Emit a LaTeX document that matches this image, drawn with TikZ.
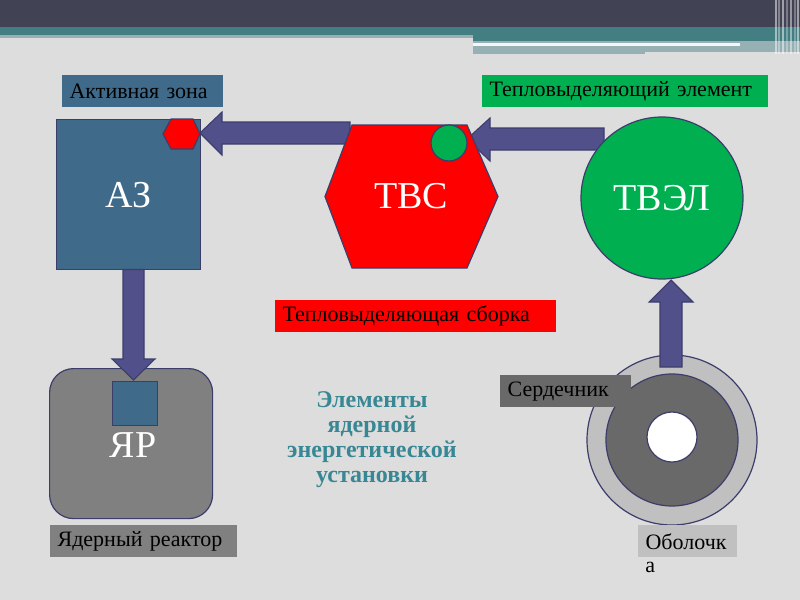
\documentclass[tikz,border=0pt]{standalone}
\usepackage{fontspec}
\setmainfont{Liberation Serif}
\definecolor{bg}{RGB}{221,221,221}
\definecolor{topdark}{RGB}{65,66,84}
\definecolor{teal}{RGB}{67,126,131}
\definecolor{tealgray}{RGB}{150,176,179}
\definecolor{azblue}{RGB}{63,106,138}
\definecolor{outl}{RGB}{59,62,106}
\definecolor{arrf}{RGB}{82,80,138}
\definecolor{grn}{RGB}{0,176,80}
\definecolor{midgray}{RGB}{128,128,128}
\definecolor{dgray}{RGB}{105,105,105}
\definecolor{lgray}{RGB}{192,192,192}
\definecolor{titletxt}{RGB}{55,135,148}
\newcommand{\lblfont}{\fontsize{16.5}{19}\selectfont}
\newcommand{\bigfont}{\fontsize{28.5}{31}\selectfont}
\begin{document}
\begin{tikzpicture}[x=0.75pt,y=-0.75pt]
\tikzset{
  lbl/.style={anchor=north west, minimum height=24pt, inner xsep=5.5pt, inner ysep=0pt, align=left, font=\lblfont, text=black, text width=#1},
  big/.style={text=white, font=\bigfont},
  edge/.style={draw=outl, line width=0.9pt},
  barrow/.style={fill=arrf, draw=outl, line width=0.8pt},
}
\useasboundingbox (0,0) rectangle (800,600);
\fill[bg] (0,0) rectangle (800,600);
% top bar
\fill[topdark] (0,0) rectangle (800,27);
\fill[teal] (0,27) rectangle (800,35);
\fill[teal] (473,27) rectangle (800,41);
\fill[tealgray] (0,35) rectangle (473,38);
\fill[tealgray] (473,41) rectangle (800,43);
\fill[tealgray] (473,43) rectangle (800,52);
\fill[white!90!tealgray] (473,43) rectangle (740,46);
\fill[tealgray] (473,46) rectangle (645,54);
\foreach \xx/\op in {775/0.5,778/0.35,782/0.5,786/0.3,790/0.45,794/0.3,797/0.5}
  \fill[white, opacity=\op] (\xx,0) rectangle (\xx+1.5,54);

% horizontal arrows
\draw[barrow] (350,122) -- (222,122) -- (222,112) -- (200,133) -- (222,155) -- (222,144) -- (350,144) -- cycle;
\draw[barrow] (604,128) -- (490,128) -- (490,118) -- (467,139) -- (490,161) -- (490,150) -- (604,150) -- cycle;

% labels
\node[lbl=109.75pt, fill=azblue] (lazl) at (62,75) {Активная зона};
\node[lbl=203.5pt, fill=grn] (ltvel) at (482,75) {Тепловыделяющий элемент};
\node[lbl=199.75pt, fill=red] (ltvs) at (275,300) {Тепловыделяющая сборка};

% AZ
\node[edge, fill=azblue, anchor=north west, minimum width=108pt, minimum height=112.5pt, inner sep=0, big] (az) at (56,119) {АЗ};
\draw[edge, fill=red] (163,134) -- (171,119) -- (193,119) -- (200,134) -- (193,149) -- (171,149) -- cycle;

% TVS
\draw[edge, fill=red] (325,196.5) -- (352,125) -- (467,125) -- (498,196.5) -- (467,268) -- (352,268) -- cycle;
\node[big] (tvs) at (411,196) {ТВС};
\node[circle, edge, fill=grn, minimum size=27pt, inner sep=0] (gdot) at (449,143) {};

% TVEL
\node[circle, edge, fill=grn, minimum size=121.5pt, inner sep=0, big] (tvel) at (662,198) {ТВЭЛ};

% reactor
\node[edge, fill=midgray, rounded corners=18pt, anchor=north west, minimum width=122.25pt, minimum height=112.5pt, inner sep=0] (yar) at (49,368) {};
\draw[barrow] (123,269.5) -- (123,359) -- (112,359) -- (133.5,380) -- (155,359) -- (144,359) -- (144,269.5) -- cycle;
\node[edge, fill=azblue, anchor=north west, minimum width=33.75pt, minimum height=33pt, inner sep=0] (sq) at (112,381) {};
\node[big] (yart) at (133,445) {ЯР};
\node[lbl=129.25pt, fill=midgray] (lyar) at (50,525) {Ядерный реактор};

% title
\node[font=\bfseries\fontsize{18}{18.75}\selectfont, text=titletxt, align=center] (title) at (372,440) {Элементы\\ядерной\\энергетической\\установки};

% cross section
\node[circle, edge, fill=lgray, minimum size=127.5pt, inner sep=0] (outer) at (672,440) {};
\node[circle, edge, fill=dgray, minimum size=99pt, inner sep=0] (core) at (672,440) {};
\node[circle, edge, fill=white, minimum size=37.5pt, inner sep=0] (hole) at (672,437) {};
\draw[barrow] (660,367) -- (660,302) -- (649,302) -- (671,280) -- (693,302) -- (682,302) -- (682,367) -- cycle;
\node[lbl=87.25pt, fill=dgray] (lcore) at (500,375) {Сердечник};
\node[lbl=63.25pt, fill=lgray] (lobol) at (638,525) {Оболочк};
\node[anchor=base west, inner sep=0, font=\lblfont] (lobola) at (645,572) {а};
\end{tikzpicture}
\end{document}
